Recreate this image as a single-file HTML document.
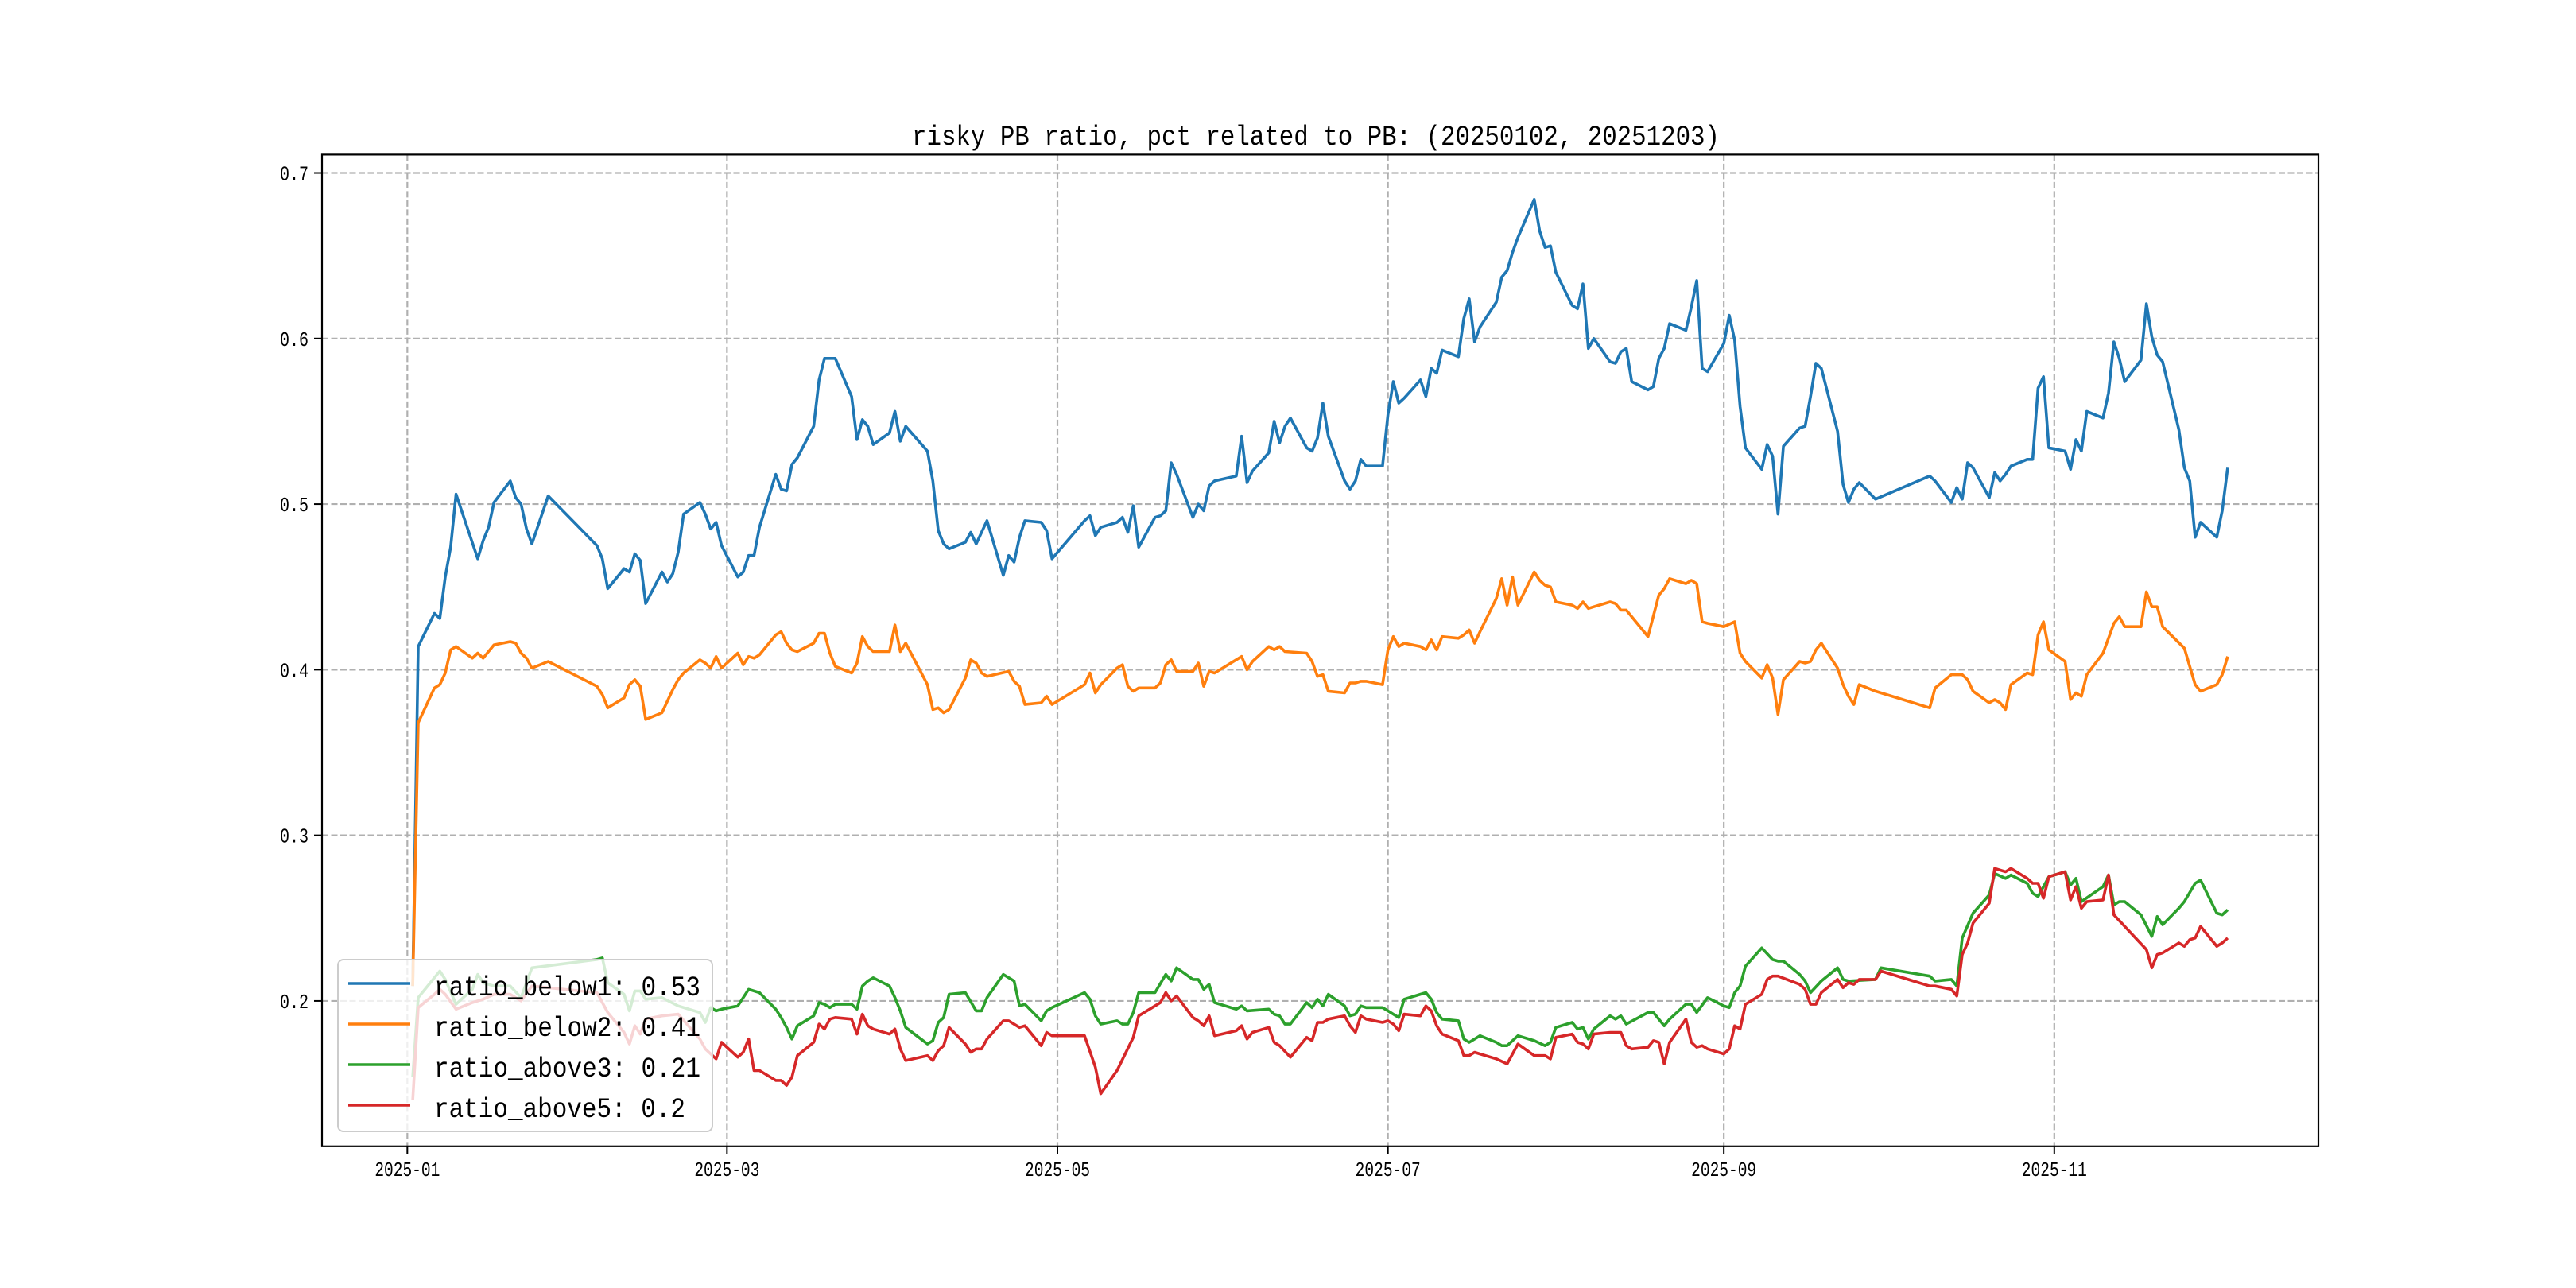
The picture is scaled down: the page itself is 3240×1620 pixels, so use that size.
<!DOCTYPE html>
<html><head><meta charset="utf-8"><style>
html,body{margin:0;padding:0;background:#fff;}
svg{display:block;}
text{font-family:"Liberation Mono","Noto Sans CJK SC",monospace;fill:#000;}
</style></head><body>
<svg id="chart" width="3240" height="1620" viewBox="0 0 3240 1620" xmlns="http://www.w3.org/2000/svg">
<rect x="0" y="0" width="3240" height="1620" fill="#fff"/>
<text x="1655" y="182" text-anchor="middle" font-size="35" textLength="1016" lengthAdjust="spacingAndGlyphs">risky PB ratio, pct related to PB: (20250102, 20251203)</text>
<g id="grid"></g>
<g id="series"></g>
<rect x="405" y="194.4" width="2511" height="1247.4" fill="none" stroke="#000" stroke-width="2.2"/>
<g id="ticks"></g>
<g id="legend"></g>
</svg>
<script>
const xTickDays = [0, 59, 120, 181, 243, 304];
const xTickLabels = ["2025-01","2025-03","2025-05","2025-07","2025-09","2025-11"];
const yTicks = [0.2, 0.3, 0.4, 0.5, 0.6, 0.7];
const yTickLabels = ["0.2","0.3","0.4","0.5","0.6","0.7"];
const seriesNames = ["ratio_below1","ratio_below2","ratio_above3","ratio_above5"];
const seriesLast = ["0.53","0.41","0.21","0.2"];
const below1Days = [1,2,5,6,7,8,9,13,14,15,16,19,20,21,22,23,26,35,36,37,40,41,42,43,44,47,48,49,50,51,54,55,56,57,58,61,62,63,64,65,68,69,70,71,72,75,76,77,79,82,83,84,85,86,89,90,91,92,96,97,98,99,100,103,104,105,107,110,111,112,113,114,117,118,119,125,126,127,128,131,132,133,134,135,138,139,140,141,142,145,146,147,148,149,153,154,155,156,159,160,161,162,163,166,167,168,169,170,173,174,175,176,177,180,181,182,183,184,187,188,189,190,191,194,195,196,197,198,201,202,203,204,205,208,209,210,211,212,215,216,217,218,219,222,223,224,225,226,229,230,231,232,233,236,237,238,239,240,243,244,245,246,247,250,251,252,253,254,257,258,259,260,261,264,265,266,267,268,271,281,282,285,286,287,288,289,292,293,294,295,296,299,300,301,302,303,306,307,308,309,310,313,314,315,316,317,320,321,322,323,324,327,328,329,330,331,334,335,336];
const below1Vals = [.209,.414,.434,.431,.456,.474,.506,.467,.478,.486,.501,.514,.504,.5,.485,.476,.505,.475,.467,.449,.461,.459,.47,.466,.44,.459,.453,.458,.471,.494,.501,.494,.485,.489,.475,.456,.459,.469,.469,.486,.518,.509,.508,.524,.528,.547,.575,.588,.588,.565,.539,.551,.547,.536,.543,.556,.538,.547,.532,.514,.484,.476,.473,.477,.483,.476,.49,.457,.469,.465,.48,.49,.489,.484,.467,.49,.493,.481,.486,.489,.492,.483,.499,.474,.492,.493,.496,.525,.518,.492,.5,.496,.511,.514,.517,.541,.513,.52,.531,.55,.537,.547,.552,.534,.532,.54,.561,.541,.514,.509,.514,.527,.523,.523,.554,.574,.561,.564,.575,.565,.582,.579,.593,.589,.612,.624,.598,.607,.622,.637,.641,.652,.661,.684,.665,.655,.656,.64,.62,.618,.633,.594,.6,.586,.585,.592,.594,.574,.569,.571,.588,.594,.609,.605,.619,.635,.582,.58,.597,.614,.599,.559,.534,.521,.536,.529,.494,.535,.546,.547,.565,.585,.582,.544,.512,.501,.509,.513,.503,.517,.514,.501,.51,.503,.525,.522,.504,.519,.514,.518,.523,.527,.527,.57,.577,.534,.532,.521,.539,.532,.556,.552,.567,.598,.588,.574,.587,.621,.601,.59,.586,.545,.522,.514,.48,.489,.48,.496,.522];
const below2Days = [1,2,5,6,7,8,9,12,13,14,16,19,20,21,22,23,26,35,36,37,40,41,42,43,44,47,48,49,50,51,54,55,56,57,58,61,62,63,64,65,68,69,70,71,72,75,76,77,78,79,82,83,84,85,86,89,90,91,92,96,97,98,99,100,103,104,105,106,107,111,112,113,114,117,118,119,125,126,127,128,131,132,133,134,135,138,139,140,141,142,145,146,147,148,149,154,155,156,159,160,161,162,166,167,168,169,170,173,174,175,176,177,180,181,182,183,184,187,188,189,190,191,194,195,196,197,198,201,202,203,204,205,208,209,210,211,212,215,216,217,218,219,222,223,224,225,229,231,232,233,236,237,238,239,240,243,245,246,247,250,251,252,253,254,257,258,259,260,261,264,265,266,267,268,271,281,282,285,287,288,289,292,293,294,295,296,299,300,301,302,303,306,307,308,309,310,313,314,315,316,317,320,321,322,323,324,328,329,330,331,334,335,336];
const below2Vals = [.209,.368,.389,.391,.398,.412,.414,.407,.41,.407,.415,.417,.416,.41,.407,.401,.405,.39,.385,.377,.383,.391,.394,.39,.37,.374,.381,.388,.394,.398,.406,.404,.401,.408,.401,.41,.403,.408,.407,.409,.421,.423,.416,.412,.411,.416,.422,.422,.41,.402,.398,.404,.42,.414,.411,.411,.427,.411,.416,.391,.376,.377,.374,.376,.395,.406,.404,.398,.396,.399,.393,.39,.379,.38,.384,.379,.391,.398,.386,.391,.401,.403,.39,.387,.389,.389,.392,.403,.406,.399,.399,.404,.39,.399,.398,.408,.4,.405,.414,.412,.414,.411,.41,.405,.396,.397,.387,.386,.392,.392,.393,.393,.391,.412,.42,.414,.416,.414,.412,.418,.412,.42,.419,.421,.424,.416,.423,.443,.455,.439,.456,.439,.459,.454,.451,.45,.441,.439,.437,.441,.437,.438,.441,.44,.436,.436,.42,.445,.449,.455,.452,.454,.452,.429,.428,.426,.429,.41,.405,.395,.403,.395,.373,.394,.405,.404,.405,.412,.416,.401,.391,.384,.379,.391,.387,.377,.389,.397,.397,.394,.387,.38,.382,.38,.376,.391,.398,.397,.421,.429,.412,.405,.382,.386,.384,.397,.41,.419,.428,.432,.426,.426,.447,.438,.438,.426,.413,.402,.391,.387,.391,.397,.408];
const above3Days = [1,2,6,7,9,12,13,14,16,19,21,23,35,36,37,40,41,42,43,44,47,50,54,55,56,57,58,61,62,63,65,68,69,70,71,72,75,76,77,78,79,82,83,84,85,86,89,90,91,92,96,97,98,99,100,103,105,106,107,110,112,113,114,117,118,119,125,126,127,128,131,132,133,134,135,138,140,141,142,145,146,147,148,149,153,154,155,159,160,161,162,163,166,167,168,169,170,173,174,175,176,177,180,181,182,183,184,188,189,190,191,194,195,196,198,201,202,203,204,205,208,210,211,212,215,216,217,218,219,222,223,224,225,229,230,232,233,236,237,238,240,243,244,245,246,247,250,252,253,254,257,258,259,261,264,265,266,271,272,281,282,285,286,287,289,292,293,295,296,299,300,301,302,303,306,307,308,309,313,314,315,316,317,320,322,323,324,327,328,330,331,334,335,336];
const above3Vals = [.154,.202,.218,.213,.198,.207,.216,.211,.209,.209,.202,.22,.225,.226,.211,.204,.194,.206,.206,.201,.202,.197,.193,.187,.196,.194,.195,.197,.202,.207,.205,.195,.19,.184,.177,.185,.191,.199,.198,.196,.198,.198,.195,.209,.212,.214,.209,.202,.194,.184,.174,.176,.187,.19,.204,.205,.194,.194,.202,.216,.212,.197,.198,.188,.194,.196,.205,.201,.191,.186,.188,.186,.186,.193,.205,.205,.216,.212,.22,.213,.213,.207,.21,.199,.195,.197,.194,.195,.192,.191,.186,.186,.199,.196,.201,.197,.204,.197,.191,.192,.197,.196,.196,.194,.192,.19,.201,.205,.201,.193,.189,.188,.177,.175,.179,.175,.173,.173,.176,.179,.176,.173,.175,.184,.187,.183,.184,.177,.183,.191,.189,.191,.186,.193,.193,.185,.189,.198,.198,.193,.202,.197,.196,.205,.209,.221,.232,.225,.224,.224,.216,.212,.205,.212,.22,.213,.212,.213,.22,.215,.212,.213,.209,.238,.253,.264,.277,.274,.276,.271,.265,.263,.269,.275,.278,.27,.274,.26,.269,.276,.258,.26,.26,.252,.239,.251,.246,.256,.26,.271,.273,.253,.252,.255];
const above5Days = [1,2,5,6,7,9,12,14,16,19,21,23,35,36,37,40,41,42,43,44,47,50,54,55,57,58,61,62,63,64,65,68,69,70,71,72,75,76,77,78,79,82,83,84,85,86,89,90,91,92,96,97,98,99,100,103,104,105,106,107,110,111,113,114,117,118,119,125,127,128,131,134,135,138,139,140,141,142,145,146,147,148,149,153,154,155,156,159,160,161,163,166,167,168,169,170,173,174,175,176,177,180,181,182,183,184,187,188,189,190,191,194,195,196,197,198,201,203,205,208,210,211,212,215,216,217,218,219,222,224,225,226,229,230,231,232,233,236,237,238,239,240,243,244,245,246,247,250,251,252,253,257,258,259,260,261,264,265,266,267,268,271,272,281,282,285,286,287,288,289,292,293,295,296,299,300,301,302,303,306,307,308,309,310,313,314,315,317,321,322,323,324,327,328,329,330,331,334,335,336];
const above5Vals = [.14,.196,.204,.207,.204,.195,.199,.201,.204,.204,.2,.209,.205,.199,.193,.181,.174,.185,.18,.189,.191,.192,.177,.171,.165,.175,.166,.169,.177,.158,.158,.152,.152,.149,.154,.167,.175,.186,.183,.189,.19,.189,.18,.192,.185,.183,.18,.183,.171,.164,.167,.164,.17,.173,.184,.174,.169,.171,.171,.177,.188,.188,.184,.185,.173,.181,.179,.179,.16,.144,.158,.178,.191,.197,.199,.205,.2,.203,.19,.188,.185,.191,.179,.182,.185,.177,.181,.184,.175,.173,.166,.178,.176,.187,.187,.189,.191,.185,.181,.191,.189,.187,.188,.186,.182,.192,.191,.197,.194,.185,.18,.176,.167,.167,.169,.168,.165,.162,.174,.167,.167,.165,.178,.18,.175,.174,.171,.18,.181,.181,.173,.171,.172,.176,.175,.162,.175,.189,.175,.172,.173,.171,.168,.171,.185,.183,.198,.204,.213,.215,.215,.21,.207,.198,.198,.205,.213,.208,.211,.21,.213,.213,.218,.209,.209,.207,.203,.228,.235,.247,.259,.28,.278,.28,.274,.271,.271,.262,.275,.278,.261,.269,.256,.26,.261,.276,.252,.245,.231,.22,.228,.229,.235,.233,.237,.238,.245,.233,.235,.238];

const NS = "http://www.w3.org/2000/svg";
const L = 405, R = 2916, T = 194.4, B = 1441.8;
const X0 = -15.75, X1 = 352.75, Y0 = 0.1122, Y1 = 0.7111;
function xs(d){ return L + (d - X0) / (X1 - X0) * (R - L); }
function ys(v){ return B - (v - Y0) / (Y1 - Y0) * (B - T); }
function mk(tag, attrs, parent){ const e = document.createElementNS(NS, tag); for (const k in attrs) e.setAttribute(k, attrs[k]); parent.appendChild(e); return e; }

const grid = document.getElementById('grid');
const ticks = document.getElementById('ticks');
xTickDays.forEach((d, i) => {
  const x = xs(d);
  const gl = mk('line', {x1:x, x2:x, y1:T, y2:B, stroke:'#b0b0b0', 'stroke-width':2.2, 'stroke-dasharray':'8,3.5'}, grid);
  
  
  const tk = mk('line', {x1:x, x2:x, y1:B, y2:B+10, stroke:'#000', 'stroke-width':2}, ticks);
  
  
  const t = mk('text', {x:x, y:B+37, 'text-anchor':'middle', 'font-size':26, textLength:82, lengthAdjust:'spacingAndGlyphs'}, ticks);
  t.textContent = xTickLabels[i];
  
  
});
yTicks.forEach((v, i) => {
  const y = ys(v);
  const gl = mk('line', {x1:L, x2:R, y1:y, y2:y, stroke:'#b0b0b0', 'stroke-width':2.2, 'stroke-dasharray':'8,3.5'}, grid);
  
  
  const tk = mk('line', {x1:L-10, x2:L, y1:y, y2:y, stroke:'#000', 'stroke-width':2}, ticks);
  
  
  const t = mk('text', {x:388, y:y+9, 'text-anchor':'end', 'font-size':26, textLength:36, lengthAdjust:'spacingAndGlyphs'}, ticks);
  t.textContent = yTickLabels[i];
  
  
});

const colors = ['#1f77b4','#ff7f0e','#2ca02c','#d62728'];
const allDays = [below1Days, below2Days, above3Days, above5Days];
const allVals = [below1Vals, below2Vals, above3Vals, above5Vals];
const sg = document.getElementById('series');
allDays.forEach((days, s) => {
  const pts = days.map((d, i) => xs(d).toFixed(1) + ',' + ys(allVals[s][i]).toFixed(1)).join(' ');
  const pl = mk('polyline', {points:pts, fill:'none', stroke:colors[s], 'stroke-width':3.6, 'stroke-linejoin':'round'}, sg);
  
  
});

const lg = document.getElementById('legend');
const box = mk('rect', {x:425, y:1207, width:471, height:216, rx:7, fill:'#fff', 'fill-opacity':0.8, stroke:'#cccccc', 'stroke-width':2}, lg);


seriesNames.forEach((n, i) => {
  const y = 1237 + i * 51;
  const ln = mk('line', {x1:438, x2:516, y1:y, y2:y, stroke:colors[i], 'stroke-width':3.6}, lg);
  
  
  const label = n + ': ' + seriesLast[i];
  const t = mk('text', {x:546, y:y+15, 'font-size':35, textLength:(label.length*18.6).toFixed(0), lengthAdjust:'spacingAndGlyphs'}, lg);
  t.textContent = label;
  
  
});
</script>
</body></html>
